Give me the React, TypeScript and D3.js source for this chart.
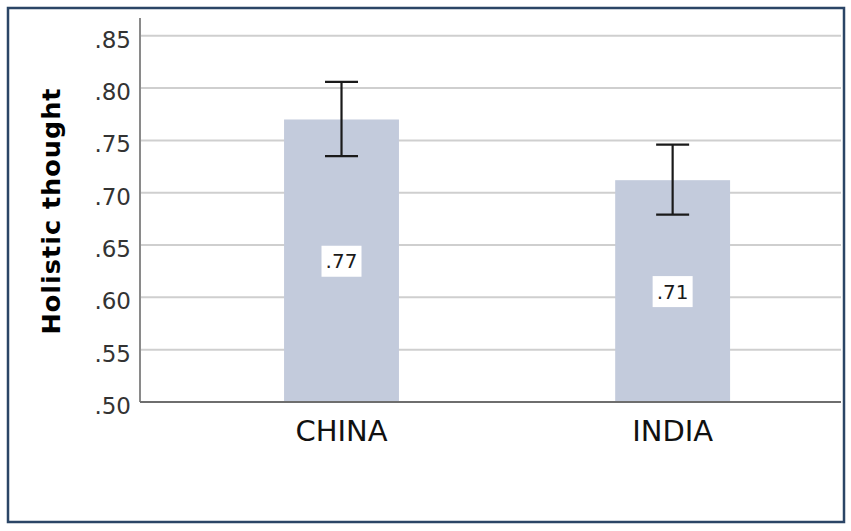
import React from "react";
import * as d3 from "d3";

const categories = ["CHINA", "INDIA"];
const means = [0.770, 0.712];
const ciLower = [0.735, 0.679];
const ciUpper = [0.806, 0.746];
const valueLabels = [".77", ".71"];
const yTicks = [0.5, 0.55, 0.6, 0.65, 0.7, 0.75, 0.8, 0.85];
const yTitle = "Holistic thought";

const W = 851;
const H = 531;
const plot = { left: 140, right: 841, top: 18, bottom: 402 };

export default function App() {
  const x = d3
    .scaleBand<string>()
    .domain(categories)
    .range([plot.left, plot.right])
    .paddingInner(0.653)
    .paddingOuter(0.385)
    .align(0.565);
  const y = d3.scaleLinear().domain([0.5, 0.867]).range([plot.bottom, plot.top]);
  const fmt = (v: number) => d3.format(".2f")(v).replace(/^0/, "");
  const bw = x.bandwidth();
  const capW = 33;
  const font = "'DejaVu Sans', Verdana, sans-serif";

  return (
    <div style={{ position: "absolute", left: 0, top: 0 }}>
      <svg width={W} height={H} style={{ display: "block", background: "#fff" }}>
        {yTicks.slice(1).map((t) => (
          <line key={t} x1={plot.left} x2={plot.right} y1={y(t)} y2={y(t)} stroke="#cfcfcf" strokeWidth={2} />
        ))}
        {categories.map((c, i) => (
          <rect key={c} x={x(c)!} y={y(means[i])} width={bw} height={y(0.5) - y(means[i])} fill="#c3cbdc" />
        ))}
        <line x1={plot.left} x2={plot.left} y1={plot.top} y2={plot.bottom} stroke="#8a8a8a" strokeWidth={2} />
        <line x1={plot.left} x2={plot.right} y1={plot.bottom} y2={plot.bottom} stroke="#6e6e6e" strokeWidth={2} />
        {categories.map((c, i) => {
          const cx = x(c)! + bw / 2;
          return (
            <g key={c} stroke="#1a1a1a" strokeWidth={2.2}>
              <line x1={cx} x2={cx} y1={y(ciUpper[i])} y2={y(ciLower[i])} />
              <line x1={cx - capW / 2} x2={cx + capW / 2} y1={y(ciUpper[i])} y2={y(ciUpper[i])} />
              <line x1={cx - capW / 2} x2={cx + capW / 2} y1={y(ciLower[i])} y2={y(ciLower[i])} />
            </g>
          );
        })}
        {categories.map((c, i) => {
          const cx = x(c)! + bw / 2;
          const cy = (y(means[i]) + y(0.5)) / 2;
          return (
            <g key={c}>
              <rect x={cx - 20} y={cy - 15} width={40} height={31} fill="#ffffff" />
              <text x={cx} y={cy + 7.5} textAnchor="middle" fontFamily={font} fontSize={20} fill="#1a1a1a">
                {valueLabels[i]}
              </text>
            </g>
          );
        })}
        {yTicks.map((t) => (
          <text key={t} x={131} y={y(t) + 12} textAnchor="end" fontFamily={font} fontSize={23} fill="#333">
            {fmt(t)}
          </text>
        ))}
        {categories.map((c) => (
          <text key={c} x={x(c)! + bw / 2} y={441} textAnchor="middle" fontFamily={font} fontSize={29} fill="#111">
            {c}
          </text>
        ))}
        <text
          transform={`translate(59.5, ${(85 + 337) / 2}) rotate(-90)`}
          textAnchor="middle"
          fontFamily={font}
          fontWeight="bold"
          fontSize={25.5}
          letterSpacing={1}
          fill="#000"
        >
          {yTitle}
        </text>
        <rect x={8} y={8} width={836} height={514} fill="none" stroke="#2b4566" strokeWidth={2.5} />
      </svg>
    </div>
  );
}
